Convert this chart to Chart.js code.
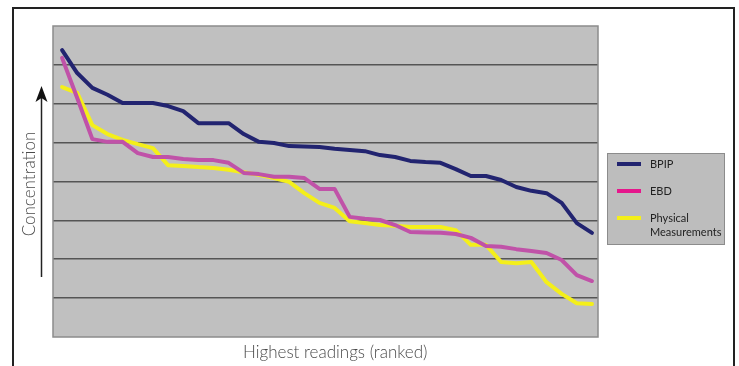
<!DOCTYPE html>
<html>
<head>
<meta charset="utf-8">
<script src="https://cdn.jsdelivr.net/npm/chart.js@4"></script>
<style>
  body { margin: 0; background: #fff; }
  #wrap { position: relative; width: 739px; height: 366px; overflow: hidden; }
  #frame { position: absolute; left: 12px; top: 7px; width: 719px; height: 380px;
           border: 2px solid #222; border-bottom: none; }
  .title { position: absolute; font-family: Lato, "Open Sans", sans-serif; font-weight: 300;
           font-size: 17px; color: #4a4a4a; white-space: nowrap; }
  #xTitle { left: 243px; top: 341px; }
  #yTitle { left: 28px; top: 184px; transform: translate(-50%, -50%) rotate(-90deg); }
  #legend { position: absolute; left: 607px; top: 153px; width: 118px; height: 92px;
            background: #bdbdbd; border: 1.5px solid #8c8c8c; box-sizing: border-box;
            font-family: Lato, "Open Sans", sans-serif; font-size: 11px; color: #222; }
  .item { position: absolute; left: 9px; }
  .swatch { position: absolute; left: 0; top: 5px; width: 24px; height: 4px; }
  .label { position: absolute; left: 33px; top: 0; line-height: 14px; }
</style>
</head>
<body>
<div id="wrap">
  <canvas id="myChart" width="739" height="366"></canvas>
  <div id="frame"></div>
  <div class="title" id="xTitle">Highest readings (ranked)</div>
  <div class="title" id="yTitle">Concentration</div>
  <div id="legend"></div>
</div>
<script>
// ranked readings, 36 of them, values in grid units (0 = bottom, 8 = top)
const ranks = [1, 2, 3, 4, 5, 6, 7, 8, 9, 10, 11, 12, 13, 14, 15, 16, 17, 18,
               19, 20, 21, 22, 23, 24, 25, 26, 27, 28, 29, 30, 31, 32, 33, 34, 35, 36];
const bpip = [7.38, 6.79, 6.41, 6.23, 6.02, 6.02, 6.02, 5.94, 5.81, 5.50, 5.50, 5.50,
              5.22, 5.02, 4.99, 4.91, 4.90, 4.89, 4.84, 4.81, 4.78, 4.68, 4.63, 4.53,
              4.50, 4.48, 4.32, 4.14, 4.14, 4.04, 3.86, 3.76, 3.70, 3.45, 2.93, 2.68];
const ebd = [7.18, 6.15, 5.09, 5.02, 5.02, 4.73, 4.63, 4.63, 4.58, 4.55, 4.55, 4.48,
             4.22, 4.19, 4.12, 4.12, 4.09, 3.81, 3.81, 3.09, 3.04, 3.01, 2.88, 2.70,
             2.69, 2.68, 2.65, 2.55, 2.34, 2.32, 2.26, 2.21, 2.16, 1.98, 1.59, 1.44];
const physical = [6.43, 6.28, 5.45, 5.22, 5.07, 4.96, 4.86, 4.42, 4.40, 4.37, 4.35, 4.30,
                  4.24, 4.17, 4.09, 3.99, 3.70, 3.45, 3.32, 2.98, 2.93, 2.88, 2.86, 2.83,
                  2.83, 2.83, 2.75, 2.37, 2.37, 1.93, 1.90, 1.93, 1.41, 1.11, 0.87, 0.85];
const seriesNames = ["BPIP", "EBD", ["Physical", "Measurements"]];
const yTicks = [0, 1, 2, 3, 4, 5, 6, 7, 8];

const lineColors = ["#222470", "#c052a8", "#f4ef1a"];
const legendColors = ["#222470", "#e6178c", "#f4ef1a"];

function points(values) {
  return values.map((v, i) => ({x: ranks[i], y: v}));
}

const plotBox = {
  id: "plotBox",
  beforeDraw(chart) {
    const {ctx, chartArea: a} = chart;
    ctx.save();
    ctx.fillStyle = "#c0c0c0";
    ctx.fillRect(a.left, a.top, a.width, a.height);
    ctx.restore();
  },
  beforeDatasetsDraw(chart) {
    const {ctx, chartArea: a} = chart;
    ctx.save();
    ctx.strokeStyle = "#8c8c8c";
    ctx.lineWidth = 1.5;
    ctx.strokeRect(a.left, a.top, a.width, a.height);
    ctx.restore();
  },
  afterDraw(chart) {
    // the "up" arrow beside the y title
    const ctx = chart.ctx;
    ctx.save();
    ctx.strokeStyle = "#222";
    ctx.lineWidth = 1.5;
    ctx.beginPath();
    ctx.moveTo(41.5, 277);
    ctx.lineTo(41.5, 96);
    ctx.stroke();
    ctx.fillStyle = "#111";
    ctx.beginPath();
    ctx.moveTo(41.5, 86);
    ctx.lineTo(47.5, 102);
    ctx.lineTo(41.5, 98);
    ctx.lineTo(35.5, 102);
    ctx.closePath();
    ctx.fill();
    ctx.restore();
  }
};

const chart = new Chart("myChart", {
  type: "line",
  data: {
    datasets: [
      {label: "BPIP", data: points(bpip)},
      {label: "EBD", data: points(ebd)},
      {label: "Physical Measurements", data: points(physical)}
    ].map((d, i) => Object.assign(d, {
      borderColor: lineColors[i],
      backgroundColor: lineColors[i],
      borderWidth: 4,
      pointRadius: 0,
      tension: 0,
      borderJoinStyle: "round",
      borderCapStyle: "round"
    }))
  },
  plugins: [plotBox],
  options: {
    responsive: false,
    animation: false,
    devicePixelRatio: 1,
    layout: {padding: {left: 53, top: 26, right: 141, bottom: 29}},
    plugins: {legend: {display: false}, tooltip: {enabled: false}},
    scales: {
      x: {type: "linear", min: 0.4, max: 36.4, display: false},
      y: {
        min: yTicks[0],
        max: yTicks[yTicks.length - 1],
        afterBuildTicks: (scale) => { scale.ticks = yTicks.map(v => ({value: v})); },
        ticks: {display: false},
        border: {display: false},
        grid: {
          drawTicks: false,
          tickLength: 0,
          color: (c) => (c.tick.value === 0 || c.tick.value === 8) ? "rgba(0,0,0,0)" : "#555",
          lineWidth: 1.6
        }
      }
    }
  }
});

// legend drawn as html from the chart's datasets
const legend = document.getElementById("legend");
const tops = [3, 30, 57];
chart.data.datasets.forEach((d, i) => {
  const item = document.createElement("div");
  item.className = "item";
  item.style.top = tops[i] + "px";
  const name = seriesNames[i];
  item.innerHTML = '<div class="swatch" style="background:' + legendColors[i] + '"></div>' +
    '<div class="label">' + (Array.isArray(name) ? name.join("<br>") : name) + '</div>';
  legend.appendChild(item);
});
</script>
</body>
</html>
